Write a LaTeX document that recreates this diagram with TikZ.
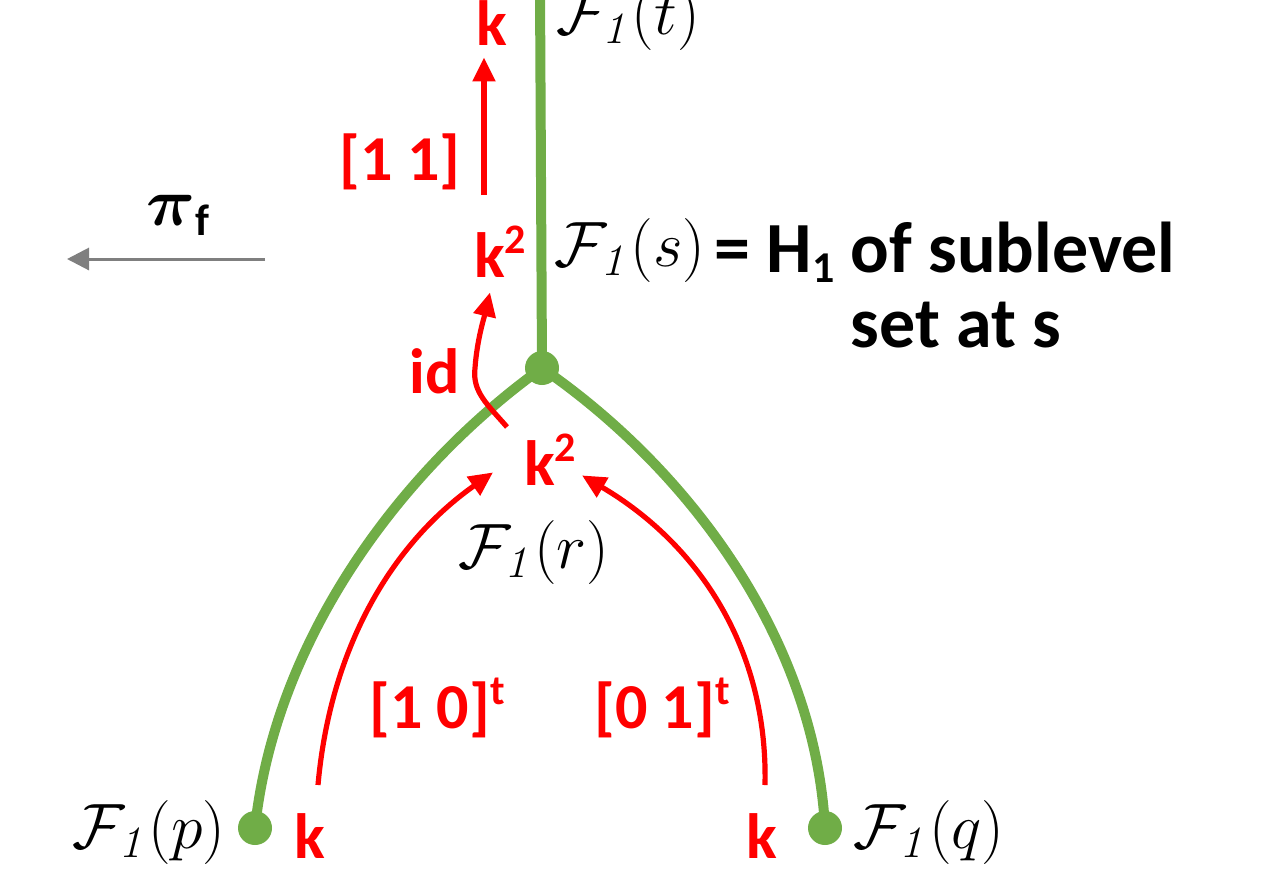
\documentclass[tikz,border=0pt]{standalone}
\usepackage{fix-cm}
\usepackage[no-math]{fontspec}
\setmainfont{Carlito}
\usetikzlibrary{arrows.meta,calc}
\definecolor{tgreen}{HTML}{70AD47}
\definecolor{tred}{HTML}{FF0000}
\definecolor{tgray}{HTML}{7F7F7F}
\newcommand\mysup[1]{\raisebox{0.36em}{\fontsize{21}{21}\selectfont #1}}
\newcommand\mysub[1]{\raisebox{-0.15em}{\fontsize{22}{22}\selectfont #1}}
\newcommand\Fo[1]{$\mathcal{F}_{\mathit{1}}(#1)$}
\begin{document}
\begin{tikzpicture}[x=0.5pt,y=-0.5pt,
  branch/.style={draw=tgreen,line width=5pt},
  vdot/.style={circle,fill=tgreen,inner sep=0pt,minimum size=17pt},
  mapar/.style={draw=tred,line width=2.6pt,-{Triangle[length=12pt,width=11pt]}},
  redlbl/.style={text=tred,font=\fontsize{32}{36}\selectfont\bfseries,inner sep=0pt,anchor=base},
  mathlbl/.style={font=\fontsize{32}{38}\selectfont,inner sep=0pt},
  blklbl/.style={font=\fontsize{36}{44}\selectfont\bfseries,inner sep=0pt,anchor=base}]
\useasboundingbox (0,0) rectangle (1272,889);
% green tree
\coordinate (top) at (540,-10);
\node[vdot] (j) at (542,368) {};
\node[vdot] (pd) at (255,828) {};
\node[vdot] (qd) at (825,828) {};
\draw[branch] (top) -- (j.center);
\draw[branch] (j.center) .. controls (400,470) and (275,640) .. (pd.center);
\draw[branch] (j.center) .. controls (690,470) and (815,640) .. (qd.center);
% math labels
\node[mathlbl] (Ft) at (628,18) {\Fo{t}};
\node[mathlbl] (Fs) at (630,250) {\Fo{s}};
\node[mathlbl] (Fr) at (534,552) {\Fo{r}};
\node[mathlbl] (Fp) at (149,832) {\Fo{p}};
\node[mathlbl] (Fq) at (929,832) {\Fo{q}};
% description
\node[blklbl] (d1) at (945,272) {= H\mysub{1} of sublevel};
\node[blklbl] (d2) at (956,347) {set at s};
% red labels
\node[redlbl] (kt) at (492,45) {k};
\node[redlbl] (m11) at (400,180) {[1 1]};
\node[redlbl] (km) at (500,277) {k\mysup{2}};
\node[redlbl] (id) at (435,393) {id};
\node[redlbl] (kl) at (550,485) {k\mysup{2}};
\node[redlbl] (m10) at (437,728) {[1 0]\mysup{t}};
\node[redlbl] (m01) at (662,728) {[0 1]\mysup{t}};
\node[redlbl] (kp) at (310,858) {k};
\node[redlbl] (kq) at (762,858) {k};
% red arrows
\coordinate (s1) at (484,195);
\coordinate (s2) at (507,427);
\coordinate (s3) at (318,785);
\coordinate (s4) at (765,785);
\draw[mapar] (s1) -- ($(kt.south)+(-8,12)$);
\draw[mapar] (s2) .. controls (488,405) and (472,392) .. (475,368)
  .. controls (477,340) and (484,318) .. ($(km.south)+(-10,15)$);
\draw[mapar] (s3) .. controls (330,650) and (390,545) .. ($(kl.south)+(-57,-13)$);
\draw[mapar] (s4) .. controls (768,650) and (700,545) .. ($(kl.south)+(32,-10)$);
% projection arrow
\node[inner sep=0pt,anchor=base,font=\fontsize{34}{38}\selectfont\bfseries] (pi) at (178,225) {{\boldmath$\pi$}\mysub{f}};
\coordinate (ga) at (265,259);
\coordinate (gb) at (67,259);
\draw[tgray,line width=1.5pt,-{Triangle[length=11pt,width=11pt]}] (ga) -- (gb);
\end{tikzpicture}
\end{document}
